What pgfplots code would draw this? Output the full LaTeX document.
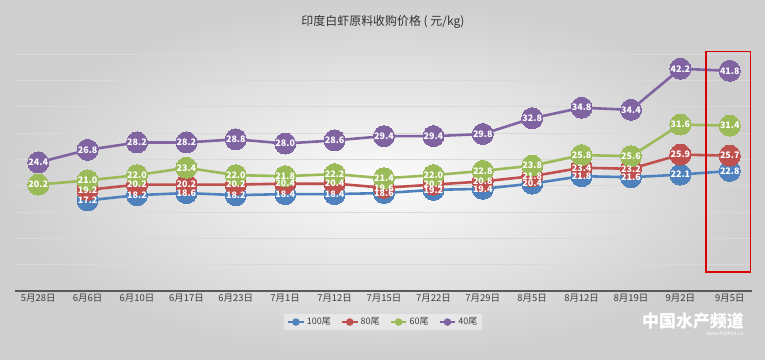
\documentclass[border=0pt]{standalone}
\usepackage{fontspec}
\setmainfont{Noto Sans CJK SC}
\usepackage{pgfplots}
\pgfplotsset{compat=1.18}
\usetikzlibrary{backgrounds}
\definecolor{cblue}{HTML}{4F81BD}
\definecolor{cred}{HTML}{C0504D}
\definecolor{cgreen}{HTML}{9BBB59}
\definecolor{cpurple}{HTML}{8064A2}
\pgfplotsset{
  ser/.style={color=#1, line width=2.6pt, mark=*, mark size=10.5bp,
    mark options={line width=0pt, fill=#1, draw=#1},
    legend image code/.code={\draw[#1,line width=2.4pt](0cm,0cm)--(0.55cm,0cm);\fill[#1](0.275cm,0cm)circle(2.4pt);}},
  lab/.style={draw=none, mark=none, forget plot, point meta=y,
    nodes near coords={\pgfmathprintnumber[fixed,fixed zerofill,precision=1,assume math mode=true]{\pgfplotspointmeta}},
    every node near coord/.append style={anchor=center, text=white, inner sep=0pt,
      font=\bfseries\fontsize{9}{10}\selectfont}},
}
\begin{document}
\begin{tikzpicture}[x=1bp,y=1bp]
\path[use as bounding box] (-15,-68) rectangle (750,291);
\begin{axis}[
  scale only axis, width=737bp, height=237bp,
  xmin=-0.47, xmax=14.45, ymin=0, ymax=45,
  clip=false,
  xtick={0,...,14},
  xticklabels={5月28日,6月6日,6月10日,6月17日,6月23日,7月1日,7月12日,7月15日,7月22日,7月29日,8月5日,8月12日,8月19日,9月2日,9月5日},
  ytick={5,10,...,45}, yticklabels={},
  ymajorgrids, grid style={gray!30, line width=0.9pt},
  axis x line*=bottom, axis y line*=left,
  y axis line style={draw=none},
  x axis line style={black!65, line width=1.2pt, -},
  major tick length=0pt,
  xticklabel style={font=\fontsize{9.5}{10}\selectfont, text=black!75},
  legend style={at={(0.4995,-0.131)}, anchor=center, draw=none, fill=white, fill opacity=0.4, text opacity=1,
    legend columns=4, font=\fontsize{9}{10}\selectfont, text=black!75,
    /tikz/every even column/.append style={column sep=8pt}},
]
\addplot[ser=cblue] coordinates {(1,17.2)(2,18.2)(3,18.6)(4,18.2)(5,18.4)(6,18.4)(7,18.6)(8,19.2)(9,19.4)(10,20.4)(11,21.8)(12,21.6)(13,22.1)(14,22.8)};
\addlegendentry{100尾}
\addplot[ser=cred] coordinates {(1,19.2)(2,20.2)(3,20.2)(4,20.2)(5,20.4)(6,20.4)(7,19.6)(8,20.2)(9,20.8)(10,21.8)(11,23.4)(12,23.2)(13,25.9)(14,25.7)};
\addlegendentry{80尾}
\addplot[ser=cgreen] coordinates {(0,20.2)(1,21.0)(2,22.0)(3,23.4)(4,22.0)(5,21.8)(6,22.2)(7,21.4)(8,22.0)(9,22.8)(10,23.8)(11,25.8)(12,25.6)(13,31.6)(14,31.4)};
\addlegendentry{60尾}
\addplot[ser=cpurple] coordinates {(0,24.4)(1,26.8)(2,28.2)(3,28.2)(4,28.8)(5,28.0)(6,28.6)(7,29.4)(8,29.4)(9,29.8)(10,32.8)(11,34.8)(12,34.4)(13,42.2)(14,41.8)};
\addlegendentry{40尾}
\addplot[lab] coordinates {(1,17.2)(2,18.2)(3,18.6)(4,18.2)(5,18.4)(6,18.4)(7,18.6)(8,19.2)(9,19.4)(10,20.4)(11,21.8)(12,21.6)(13,22.1)(14,22.8)};
\addplot[lab] coordinates {(1,19.2)(2,20.2)(3,20.2)(4,20.2)(5,20.4)(6,20.4)(7,19.6)(8,20.2)(9,20.8)(10,21.8)(11,23.4)(12,23.2)(13,25.9)(14,25.7)};
\addplot[lab] coordinates {(0,20.2)(1,21.0)(2,22.0)(3,23.4)(4,22.0)(5,21.8)(6,22.2)(7,21.4)(8,22.0)(9,22.8)(10,23.8)(11,25.8)(12,25.6)(13,31.6)(14,31.4)};
\addplot[lab] coordinates {(0,24.4)(1,26.8)(2,28.2)(3,28.2)(4,28.8)(5,28.0)(6,28.6)(7,29.4)(8,29.4)(9,29.8)(10,32.8)(11,34.8)(12,34.4)(13,42.2)(14,41.8)};
\draw[red!85!black, line width=1.6pt] (axis cs:13.52,3.6) rectangle (axis cs:14.42,45.5);
\end{axis}
\node[font=\fontsize{12}{14}\selectfont, text=black!80] at (368,269) {印度白虾原料收购价格 ( 元/kg)};
\node[font=\bfseries\itshape\fontsize{17}{18}\selectfont, text=white] at (678,-30) {中国水产频道};
\node[font=\fontsize{5}{6}\selectfont, text=white] at (710,-43) {www.fishfirst.cn};
\begin{scope}[on background layer]
\shade[inner color=white!97!gray, outer color=gray!38] (-15,-68) rectangle (750,291);
\end{scope}
\end{tikzpicture}
\end{document}
